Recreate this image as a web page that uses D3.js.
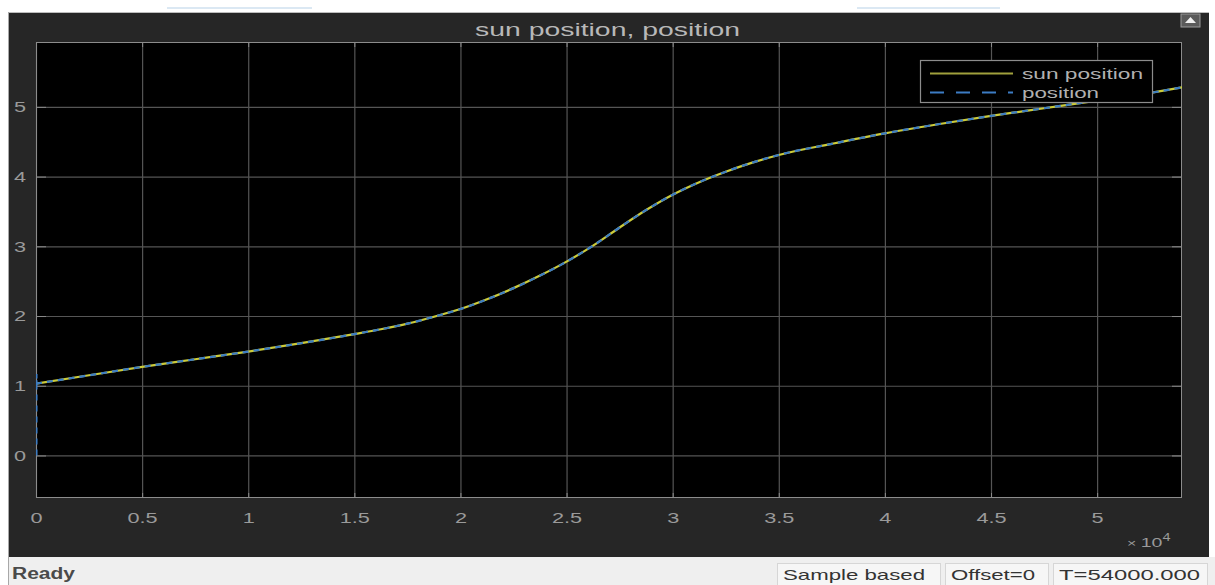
<!DOCTYPE html>
<html>
<head>
<meta charset="utf-8">
<script src="https://cdn.jsdelivr.net/npm/d3@7"></script>
<style>
  html, body { margin: 0; padding: 0; background: #fff; }
  svg { display: block; font-family: "Liberation Sans", Arial, sans-serif; }
</style>
</head>
<body>
<svg id="chart" width="1215" height="585"></svg>
<script>
(function () {
  "use strict";

  // sample time (s) and signal values
  const sunTimes  = [0, 2500, 5000, 7500, 10000, 12500, 15000, 16250, 17500, 18750, 20000, 21250, 22500,
                     23750, 25000, 26250, 27500, 28750, 30000, 31250, 32500, 33750, 35000, 37500,
                     40000, 42500, 45000, 47500, 50000, 52500, 54000];
  const sunValues = [1.03, 1.15, 1.27, 1.38, 1.49, 1.61, 1.74, 1.81, 1.89, 1.99, 2.10, 2.24, 2.40,
                     2.58, 2.78, 3.01, 3.27, 3.52, 3.74, 3.92, 4.07, 4.20, 4.31, 4.47,
                     4.62, 4.75, 4.87, 4.98, 5.09, 5.20, 5.28];
  // position starts at 0 and jumps up at t = 0
  const posStartTimes  = [0, 0, 0];
  const posStartValues = [0, 1.17, 1.03];
  const posTimes  = [0, 2500, 5000, 7500, 10000, 12500, 15000, 16250, 17500, 18750, 20000, 21250, 22500,
                     23750, 25000, 26250, 27500, 28750, 30000, 31250, 32500, 33750, 35000, 37500,
                     40000, 42500, 45000, 47500, 50000, 52500, 54000];
  const posValues = [1.03, 1.15, 1.27, 1.38, 1.49, 1.61, 1.74, 1.81, 1.89, 1.99, 2.10, 2.24, 2.40,
                     2.58, 2.78, 3.01, 3.27, 3.52, 3.74, 3.92, 4.07, 4.20, 4.31, 4.47,
                     4.62, 4.75, 4.87, 4.98, 5.09, 5.20, 5.28];

  const xTicks = [0, 5000, 10000, 15000, 20000, 25000, 30000, 35000, 40000, 45000, 50000];
  const yTicks = [0, 1, 2, 3, 4, 5];
  const seriesNames = ["sun position", "position"];
  const titleText = "sun position, position";
  const statusCells = ["Sample based", "Offset=0", "T=54000.000"];

  const SX = 1.55; // the screenshot is stretched sideways
  const svg = d3.select("#chart");

  // window chrome above the scope
  svg.append("line").attr("x1", 167).attr("x2", 312).attr("y1", 8).attr("y2", 8)
    .attr("stroke", "#cfe0ef").attr("stroke-width", 1.5);
  svg.append("line").attr("x1", 857).attr("x2", 1000).attr("y1", 8).attr("y2", 8)
    .attr("stroke", "#cfe0ef").attr("stroke-width", 1.5);

  // dark scope panel
  svg.append("rect").attr("x", 8).attr("y", 12).attr("width", 1201).attr("height", 545)
    .attr("fill", "#262626");
  svg.append("line").attr("x1", 8).attr("x2", 1209).attr("y1", 12.5).attr("y2", 12.5)
    .attr("stroke", "#bdbdbd");
  svg.append("line").attr("x1", 8.5).attr("x2", 8.5).attr("y1", 12).attr("y2", 585)
    .attr("stroke", "#a8a8a8");

  // status bar
  svg.append("rect").attr("x", 9).attr("y", 557).attr("width", 1206).attr("height", 28)
    .attr("fill", "#efefef");
  svg.append("text").attr("x", 12).attr("y", 579)
    .attr("textLength", 63).attr("lengthAdjust", "spacingAndGlyphs")
    .attr("font-size", 16).attr("font-weight", "bold").attr("fill", "#4a4a4a").text("Ready");
  const cellX = [777, 945, 1053];
  const cellW = [163, 103, 154];
  const textW = [142, 84, 141];
  statusCells.forEach((t, i) => {
    svg.append("rect").attr("x", cellX[i] + 0.5).attr("y", 563.5)
      .attr("width", cellW[i]).attr("height", 22)
      .attr("fill", "#f6f6f6").attr("stroke", "#d6d6d6");
    svg.append("text").attr("x", cellX[i] + 6).attr("y", 580)
      .attr("textLength", textW[i]).attr("lengthAdjust", "spacingAndGlyphs")
      .attr("font-size", 15).attr("fill", "#333").text(t);
  });

  // restore button
  svg.append("rect").attr("x", 1181).attr("y", 14).attr("width", 19).attr("height", 13)
    .attr("fill", "#5a5a5a").attr("stroke", "#9a9a9a");
  svg.append("path").attr("d", "M1185,23 L1196,23 L1190.5,17 Z").attr("fill", "#f0f0f0");

  // title
  svg.append("text").attr("x", 475).attr("y", 36)
    .attr("textLength", 265).attr("lengthAdjust", "spacingAndGlyphs")
    .attr("font-size", 18).attr("fill", "#b8b8b8")
    .text(titleText);

  // plot area
  const L = 36, R = 1182, T = 42, B = 498;
  const x = d3.scaleLinear().domain([0, 54000]).range([L, R]);
  const y = d3.scaleLinear().domain([-0.61, 5.93]).range([B, T]);

  svg.append("rect").attr("x", L).attr("y", T).attr("width", R - L).attr("height", B - T)
    .attr("fill", "#000");

  // grid
  svg.append("g").attr("transform", `translate(0,${B})`)
    .call(d3.axisBottom(x).tickValues(xTicks).tickSize(-(B - T)).tickFormat(""))
    .call(g => g.select(".domain").remove())
    .selectAll("line").attr("stroke", "#555").attr("stroke-width", 1.2);
  svg.append("g").attr("transform", `translate(${L},0)`)
    .call(d3.axisLeft(y).tickValues(yTicks).tickSize(-(R - L)).tickFormat(""))
    .call(g => g.select(".domain").remove())
    .selectAll("line").attr("stroke", "#555").attr("stroke-width", 1.2);

  // inward ticks
  svg.append("g").attr("transform", `translate(0,${B})`)
    .call(d3.axisBottom(x).tickValues(xTicks).tickSize(-5).tickFormat(""))
    .call(g => g.select(".domain").remove())
    .selectAll("line").attr("stroke", "#8a8a8a");
  svg.append("g").attr("transform", `translate(0,${T})`)
    .call(d3.axisTop(x).tickValues(xTicks).tickSize(-5).tickFormat(""))
    .call(g => g.select(".domain").remove())
    .selectAll("line").attr("stroke", "#8a8a8a");
  svg.append("g").attr("transform", `translate(${L},0)`)
    .call(d3.axisLeft(y).tickValues(yTicks).tickSize(-10).tickFormat(""))
    .call(g => g.select(".domain").remove())
    .selectAll("line").attr("stroke", "#8a8a8a");
  svg.append("g").attr("transform", `translate(${R},0)`)
    .call(d3.axisRight(y).tickValues(yTicks).tickSize(-10).tickFormat(""))
    .call(g => g.select(".domain").remove())
    .selectAll("line").attr("stroke", "#8a8a8a");

  // tick labels
  const xAx = svg.append("g").attr("transform", `translate(0,${B})`)
    .call(d3.axisBottom(x).tickValues(xTicks).tickSize(0).tickFormat(d => d3.format("~g")(d / 1e4)));
  xAx.select(".domain").remove();
  xAx.selectAll("text").attr("y", 0).attr("dy", 0)
    .attr("transform", `translate(0,25) scale(${SX},1)`)
    .attr("font-size", 14).attr("font-family", "Liberation Sans, Arial, sans-serif").attr("fill", "#9a9a9a");

  const yAx = svg.append("g").attr("transform", `translate(${L},0)`)
    .call(d3.axisLeft(y).tickValues(yTicks).tickSize(0).tickFormat(d3.format("d")));
  yAx.select(".domain").remove();
  yAx.selectAll("text").attr("x", 0).attr("dy", "0.35em").attr("text-anchor", "middle")
    .attr("transform", `translate(-16,0) scale(${SX},1)`)
    .attr("font-size", 14).attr("font-family", "Liberation Sans, Arial, sans-serif").attr("fill", "#9a9a9a");

  // exponent
  const ex = svg.append("text").attr("transform", `translate(1127,547) scale(1.45,1)`)
    .attr("font-size", 13.5).attr("fill", "#9a9a9a");
  ex.append("tspan").attr("font-size", 11).text("\u00d7 ");
  ex.append("tspan").text("10");
  ex.append("tspan").attr("font-size", 10).attr("dy", -6).text("4");

  // border
  svg.append("rect").attr("x", L + 0.5).attr("y", T + 0.5).attr("width", R - L - 1).attr("height", B - T - 1)
    .attr("fill", "none").attr("stroke", "#8c8c8c");

  // series
  svg.append("clipPath").attr("id", "clip")
    .append("rect").attr("x", L).attr("y", T).attr("width", R - L).attr("height", B - T);

  const line = d3.line().x(d => x(d[0])).y(d => y(d[1])).curve(d3.curveMonotoneX);
  const stepLine = d3.line().x(d => x(d[0])).y(d => y(d[1]));
  const sunData = sunTimes.map((t, i) => [t, sunValues[i]]);
  const posData = posTimes.map((t, i) => [t, posValues[i]]);
  const posStart = posStartTimes.map((t, i) => [t, posStartValues[i]]);

  const plot = svg.append("g").attr("clip-path", "url(#clip)");
  plot.append("path").datum(sunData).attr("d", line)
    .attr("fill", "none").attr("stroke", "#cbcb3a").attr("stroke-width", 2.2);
  plot.append("path").datum(posStart).attr("d", stepLine)
    .attr("fill", "none").attr("stroke", "#3c7cc4").attr("stroke-width", 3)
    .attr("stroke-dasharray", "6,5");
  plot.append("path").datum(posData).attr("d", line)
    .attr("fill", "none").attr("stroke", "#3c7cc4").attr("stroke-width", 2.2)
    .attr("stroke-dasharray", "6,5");

  // legend
  const lg = svg.append("g");
  lg.append("rect").attr("x", 920.5).attr("y", 60.5).attr("width", 232).attr("height", 42)
    .attr("fill", "#000").attr("stroke", "#8c8c8c").attr("stroke-width", 1.2);
  const legColors = ["#a0a03c", "#3c7cc4"];
  const legDash = [null, "14,12"];
  const legTextW = [121, 77];
  seriesNames.forEach((n, i) => {
    const yy = 73.5 + i * 19;
    lg.append("line").attr("x1", 930).attr("x2", 1013).attr("y1", yy).attr("y2", yy)
      .attr("stroke", legColors[i]).attr("stroke-width", 2.2)
      .attr("stroke-dasharray", legDash[i]);
    lg.append("text").attr("x", 1022).attr("y", yy + 5)
      .attr("textLength", legTextW[i]).attr("lengthAdjust", "spacingAndGlyphs")
      .attr("font-size", 14.5).attr("fill", "#b0b0b0").text(n);
  });
})();
</script>
</body>
</html>
